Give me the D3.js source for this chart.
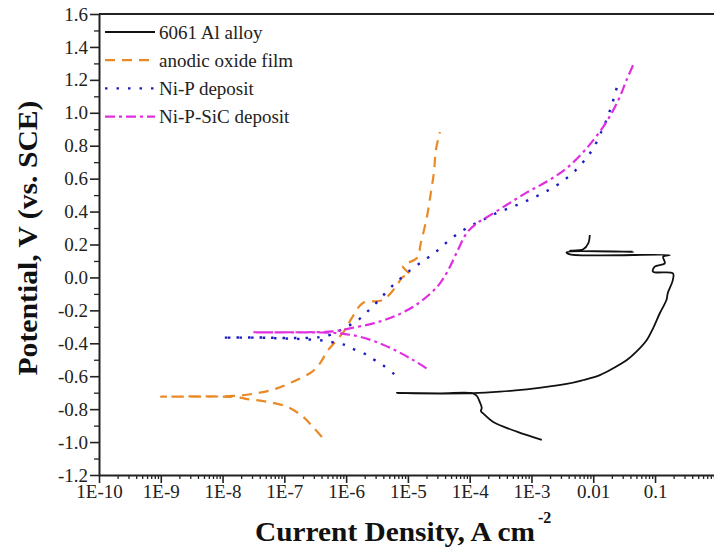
<!DOCTYPE html>
<html>
<head>
<meta charset="UTF-8">
<script src="https://cdnjs.cloudflare.com/ajax/libs/d3/7.8.5/d3.min.js"></script>
<style>
  body { margin: 0; background: #fff; }
</style>
</head>
<body>
<div id="chart"></div>
<script>
// polarisation curves: [current density (A cm-2), potential (V vs. SCE)]
const alloyData = [
  [1.47e-3, -0.987], [5.8e-4, -0.937], [2.37e-4, -0.876], [1.7e-4, -0.83], [1.52e-4, -0.811],
  [1.57e-4, -0.793], [1.46e-4, -0.757], [1.31e-4, -0.72], [1.13e-4, -0.704], [3.3e-5, -0.704],
  [6.6e-6, -0.702], [3.3e-5, -0.705], [1.13e-4, -0.703], [3.1e-4, -0.694], [8.4e-4, -0.68],
  [3.7e-3, -0.647], [6.9e-3, -0.623], [0.0128, -0.593], [0.021, -0.552], [0.035, -0.502],
  [0.050, -0.451], [0.0736, -0.38], [0.093, -0.309], [0.12, -0.216], [0.153, -0.137],
  [0.161, -0.095], [0.194, -0.016], [0.195, 0.025], [0.093, 0.035], [0.099, 0.065],
  [0.144, 0.086], [0.135, 0.126], [0.173, 0.136], [4.2e-3, 0.14], [3.7e-3, 0.153],
  [0.0443, 0.156], [4.2e-3, 0.162], [6.9e-3, 0.171], [8.3e-3, 0.207], [8.8e-3, 0.258]
];
const oxideData = [
  [4.05e-7, -0.969], [2.9e-7, -0.908], [2.0e-7, -0.846], [1.1e-7, -0.785], [5.2e-8, -0.755],
  [2.8e-8, -0.741], [1.47e-8, -0.726], [1.0e-9, -0.724], [1.47e-8, -0.72], [4.0e-8, -0.70],
  [7.6e-8, -0.674], [1.38e-7, -0.633], [2.8e-7, -0.573], [3.77e-7, -0.522], [5.1e-7, -0.441],
  [7.1e-7, -0.38], [9.6e-7, -0.319], [1.24e-6, -0.246], [1.87e-6, -0.155], [3.9e-6, -0.137],
  [6.2e-6, -0.064], [8.3e-6, 0.003], [1.08e-5, 0.015], [8.3e-6, 0.069], [1.4e-5, 0.118],
  [1.62e-5, 0.209], [2.03e-5, 0.367], [2.35e-5, 0.513], [2.64e-5, 0.64], [2.84e-5, 0.774],
  [3.3e-5, 0.883]
];
const niPData = [
  [6.0e-6, -0.587], [3.9e-6, -0.532], [2.43e-6, -0.485], [1.84e-6, -0.456], [1.23e-6, -0.431],
  [9.6e-7, -0.41], [7.0e-7, -0.40], [4.8e-7, -0.386], [3.33e-7, -0.38], [1.79e-7, -0.374],
  [8.5e-8, -0.37], [4.0e-8, -0.366], [9.8e-9, -0.366], [4.0e-8, -0.365], [1.23e-7, -0.368],
  [3.8e-7, -0.362], [6.6e-7, -0.338], [8.5e-7, -0.315], [1.3e-6, -0.279], [1.82e-6, -0.239],
  [2.43e-6, -0.192], [3.3e-6, -0.143], [4.8e-6, -0.076], [7.1e-6, -0.016], [1.1e-5, 0.045],
  [1.77e-5, 0.10], [2.74e-5, 0.15], [4.2e-5, 0.211], [6.8e-5, 0.272], [1.1e-4, 0.318],
  [1.76e-4, 0.355], [2.8e-4, 0.393], [4.5e-4, 0.423], [7.2e-4, 0.454], [1.16e-3, 0.49],
  [1.82e-3, 0.527], [2.96e-3, 0.575], [4.7e-3, 0.636], [7.3e-3, 0.713], [0.0102, 0.79],
  [0.0139, 0.895], [0.017, 0.973], [0.02, 1.049], [0.023, 1.126], [0.026, 1.205]
];
const niPSiCData = [
  [2.0e-5, -0.552], [1.22e-5, -0.502], [6.9e-6, -0.451], [3.5e-6, -0.40], [1.67e-6, -0.36],
  [9.6e-7, -0.344], [5.5e-7, -0.335], [1.23e-7, -0.334], [3.1e-8, -0.333], [1.23e-7, -0.333],
  [6.1e-7, -0.328], [1.15e-6, -0.309], [2.75e-6, -0.279], [5.8e-6, -0.239], [1.22e-5, -0.178],
  [2.27e-5, -0.101], [3.3e-5, -0.036], [4.5e-5, 0.045], [6.1e-5, 0.147], [8.9e-5, 0.268],
  [1.3e-4, 0.329], [1.87e-4, 0.364], [3.95e-4, 0.44], [8.3e-4, 0.515], [1.75e-3, 0.581],
  [3.7e-3, 0.663], [7.8e-3, 0.784], [0.0145, 0.915], [0.0198, 0.997], [0.027, 1.098],
  [0.0346, 1.199], [0.0443, 1.29]
];

const seriesNames = ["6061 Al alloy", "anodic oxide film", "Ni-P deposit", "Ni-P-SiC deposit"];
const xTickValues = [1e-10, 1e-9, 1e-8, 1e-7, 1e-6, 1e-5, 1e-4, 1e-3, 1e-2, 1e-1, 1];
// the "1" label falls off the right edge of the picture
const xTickLabels = ["1E-10", "1E-9", "1E-8", "1E-7", "1E-6", "1E-5", "1E-4", "1E-3", "0.01", "0.1", ""];
const yTickValues = [-1.2, -1.0, -0.8, -0.6, -0.4, -0.2, 0.0, 0.2, 0.4, 0.6, 0.8, 1.0, 1.2, 1.4, 1.6];

const FONT = "'Liberation Serif', 'Times New Roman', serif";
const width = 714, height = 550;
const svg = d3.select("#chart").append("svg")
  .attr("width", width)
  .attr("height", height)
  .attr("font-family", FONT);

const x = d3.scaleLog().domain([1e-10, 1]).range([99, 716.8]);
const y = d3.scaleLinear().domain([-1.2, 1.6]).range([475, 14]);

// minor ticks
const xMinor = [];
xTickValues.slice(0, -1).forEach(v => { for (let k = 2; k <= 9; k++) xMinor.push(v * k); });
const yMinor = yTickValues.slice(0, -1).map(v => v + 0.1);

svg.append("g")
  .attr("transform", `translate(0,${y(-1.2)})`)
  .call(d3.axisBottom(x).tickValues(xMinor).tickSize(4).tickFormat(""))
  .call(g => g.select(".domain").remove())
  .selectAll("line").attr("stroke", "#222").attr("stroke-width", 1.3);

svg.append("g")
  .attr("transform", `translate(${x(1e-10)},0)`)
  .call(d3.axisLeft(y).tickValues(yMinor).tickSize(5).tickFormat(""))
  .call(g => g.select(".domain").remove())
  .selectAll("line").attr("stroke", "#222").attr("stroke-width", 1.3);

const xAxis = svg.append("g")
  .attr("transform", `translate(0,${y(-1.2)})`)
  .call(d3.axisBottom(x).tickValues(xTickValues).tickSize(8).tickSizeOuter(0)
    .tickFormat((d, i) => xTickLabels[i]))
  .attr("font-family", FONT)
  .attr("font-size", 19);
xAxis.select(".domain").attr("stroke", "#222").attr("stroke-width", 2);
xAxis.selectAll(".tick line").attr("stroke", "#222").attr("stroke-width", 1.6);
xAxis.selectAll(".tick text").attr("y", 11).attr("dy", 12).attr("fill", "#222");

const yAxis = svg.append("g")
  .attr("transform", `translate(${x(1e-10)},0)`)
  .call(d3.axisLeft(y).tickValues(yTickValues).tickSize(9).tickSizeOuter(0)
    .tickFormat(d => d.toFixed(1)))
  .attr("font-family", FONT)
  .attr("font-size", 19);
yAxis.select(".domain").attr("stroke", "#222").attr("stroke-width", 2);
yAxis.selectAll(".tick line").attr("stroke", "#222").attr("stroke-width", 1.6);
yAxis.selectAll(".tick text").attr("x", -11).attr("fill", "#222");

// top frame
svg.append("line")
  .attr("x1", x(1e-10)).attr("x2", width)
  .attr("y1", y(1.6)).attr("y2", y(1.6))
  .attr("stroke", "#222").attr("stroke-width", 2);

const styles = [
  { data: alloyData,  color: "#111111", dash: null,       w: 1.8 },
  { data: oxideData,  color: "#EA8A26", dash: "10,7",     w: 2.2 },
  { data: niPData,    color: "#1C1CC0", dash: "2.5,9",    w: 2.4 },
  { data: niPSiCData, color: "#E02EE0", dash: "10,4,3,4", w: 2.2 }
];

const line = d3.line().x(d => x(d[0])).y(d => y(d[1])).curve(d3.curveCatmullRom.alpha(0.5));

styles.forEach(s => {
  svg.append("path")
    .datum(s.data)
    .attr("d", line)
    .attr("fill", "none")
    .attr("stroke", s.color)
    .attr("stroke-width", s.w)
    .attr("stroke-dasharray", s.dash)
    .attr("stroke-linejoin", "round");
});

// legend
const legend = svg.append("g").attr("transform", "translate(105,32)");
seriesNames.forEach((name, i) => {
  const row = legend.append("g").attr("transform", `translate(0,${i * 28.2})`);
  row.append("line")
    .attr("x1", 0).attr("x2", 50).attr("y1", 0).attr("y2", 0)
    .attr("stroke", styles[i].color)
    .attr("stroke-width", styles[i].w)
    .attr("stroke-dasharray", styles[i].dash);
  row.append("text")
    .attr("x", 54).attr("y", 6.5)
    .attr("font-family", FONT)
    .attr("font-size", 19)
    .attr("fill", "#222")
    .text(name);
});

// axis titles
svg.append("text")
  .attr("transform", `translate(37,238) rotate(-90)`)
  .attr("text-anchor", "middle")
  .attr("font-family", FONT)
  .attr("font-size", 27)
  .attr("font-weight", "bold")
  .attr("fill", "#111")
  .attr("textLength", 275)
  .attr("lengthAdjust", "spacingAndGlyphs")
  .text("Potential, V (vs. SCE)");

const xt = svg.append("text")
  .attr("x", 255).attr("y", 541)
  .attr("font-family", FONT)
  .attr("font-size", 27)
  .attr("font-weight", "bold")
  .attr("fill", "#111");
xt.append("tspan").attr("textLength", 280).attr("lengthAdjust", "spacingAndGlyphs")
  .text("Current Density, A cm");
xt.append("tspan").attr("dx", 3).attr("dy", -18).attr("font-size", 16).text("-2");
</script>
</body>
</html>
